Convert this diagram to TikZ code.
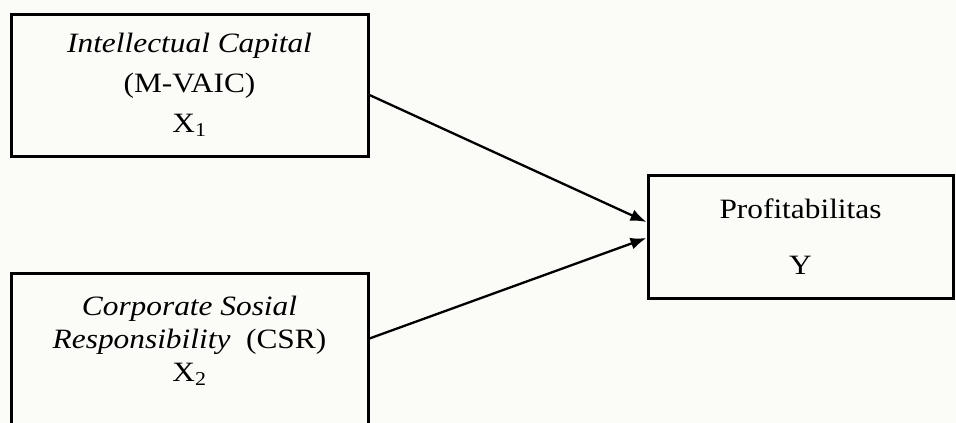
\documentclass[tikz,border=0pt]{standalone}
\usepackage{fontspec}
\setmainfont{Liberation Serif}[FakeStretch=1.12]
\usetikzlibrary{arrows.meta}
\definecolor{bgcream}{RGB}{251,252,248}

\begin{document}
\begin{tikzpicture}[x=1pt, y=-1pt, every node/.style={rectangle, align=center, font=\fontsize{28}{33}\selectfont}]
	\tikzset{varbox/.style={draw, line width=3pt, inner sep=0pt}}
	\tikzset{effect/.style={line width=2.3pt, -{Latex[length=16pt,width=12pt]}}}
	\fill[bgcream] (0,0) rectangle (956,423);
	\useasboundingbox (0,0) rectangle (956,423);
	\node[varbox, minimum width=357pt, minimum height=142pt] (x1) at (189.5,85)
		{\textit{Intellectual Capital}\\[7pt](M-VAIC)\\[7pt]X\textsubscript{1}};
	\node[varbox, minimum width=357pt, minimum height=170pt, anchor=north] (x2) at (189.5,272) {};
	\node (x2txt) at (189.5,341) {\textit{Corporate Sosial}\\\textit{Responsibility}\ \ (CSR)\\X\textsubscript{2}};
	\node[varbox, minimum width=305pt, minimum height=123pt] (y) at (800.5,236.5)
		{Profitabilitas\\[23pt]Y};
	\draw[effect] ([yshift=-10pt]x1.east) -- ([yshift=14.5pt]y.west);
	\draw[effect] ([yshift=20pt]x2.east) -- ([yshift=-1.5pt]y.west);
\end{tikzpicture}
\end{document}
